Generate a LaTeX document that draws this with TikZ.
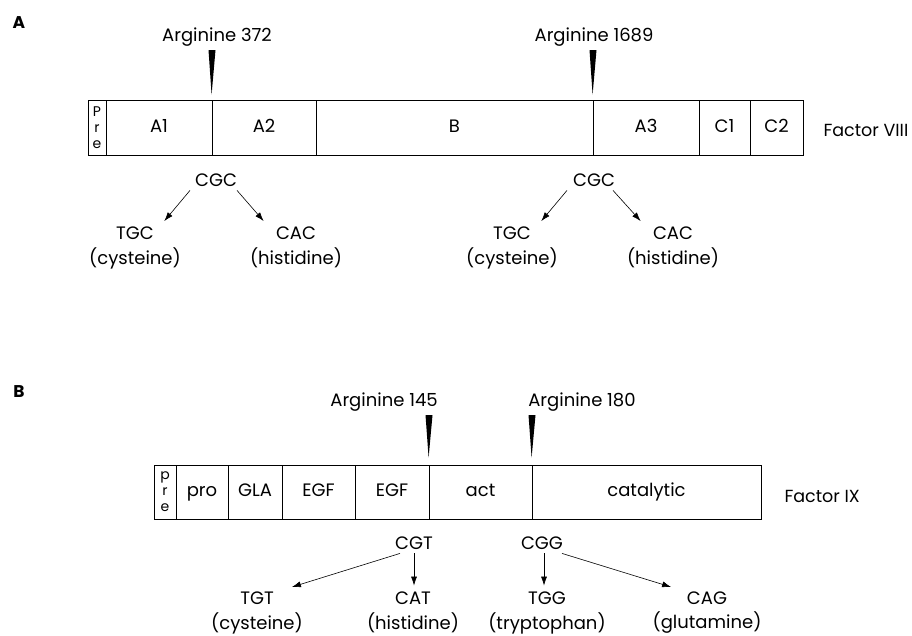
\documentclass[tikz,border=0pt]{standalone}
\usepackage{fontspec}
\setmainfont{Poppins}
\usepackage{tikz}
\usetikzlibrary{arrows.meta}
\usetikzlibrary{positioning}

\begin{document}
\begin{tikzpicture}[x=1pt,y=-1pt,font=\fontsize{18}{21}\selectfont]
	\tikzset{seg/.style = {draw, line width=0.8pt, minimum height=55pt, inner sep=0pt,
			text height=13pt, text depth=4pt}}
	\tikzset{prebox/.style = {draw, line width=0.8pt, minimum height=55pt, inner sep=0pt,
			align=center, font=\fontsize{14}{16}\selectfont}}
	\tikzset{codon/.style = {inner sep=1pt, outer sep=3pt}}
	\tikzset{amino/.style = {inner sep=1pt}}
	\tikzset{mut/.style = {-{Latex[length=9pt,width=6pt]}, line width=0.6pt, shorten >=2pt}}
	\tikzset{cut/.style = {fill=black}}
	\tikzset{panel/.style = {font=\fontsize{17}{17}\selectfont\bfseries}}
	
	\useasboundingbox (0,0) rectangle (912,635);
	
	% panel A: factor VIII
	\node[panel] (panA) at (19,23) {A};
	\node[prebox, minimum width=18pt] (preA) at (97,127.5) {P\\r\\e};
	\node[seg, minimum width=106pt] (A1) at (159,127.5) {A1};
	\node[seg, minimum width=104pt] (A2) at (264,127.5) {A2};
	\node[seg, minimum width=277pt] (B) at (454.5,127.5) {B};
	\node[seg, minimum width=106pt] (A3) at (646,127.5) {A3};
	\node[seg, minimum width=51pt] (C1) at (724.5,127.5) {C1};
	\node[seg, minimum width=53pt] (C2) at (776.5,127.5) {C2};
	\node[anchor=west, font=\fontsize{17.5}{20}\selectfont] (f8) at (820,130) {Factor VIII};
	
	\node (arg372) at (217,37) {Arginine 372};
	\node (arg1689) at (594,37) {Arginine 1689};
	\coordinate (tip372) at (212,50);
	\coordinate (tip1689) at (593,50);
	\fill[cut] (tip372) ++(-3.5,0) -- ++(7,0) -- ([yshift=5pt]A2.north west) -- cycle;
	\fill[cut] (tip1689) ++(-3.5,0) -- ++(7,0) -- ([yshift=5pt]A3.north west) -- cycle;
	
	\node[codon] (cgcA) at (216,180) {CGC};
	\node[codon] (tgcA) at (135,233) {TGC};
	\node[codon] (cacA) at (296,233) {CAC};
	\node[amino] (cysA) at (135,258) {(cysteine)};
	\node[amino] (hisA) at (296,258) {(histidine)};
	
	\node[codon] (cgcAA) at (594,180) {CGC};
	\node[codon] (tgcAA) at (512,233) {TGC};
	\node[codon] (cacAA) at (673,233) {CAC};
	\node[amino] (cysAA) at (512,258) {(cysteine)};
	\node[amino] (hisAA) at (673,258) {(histidine)};
	
	\draw[mut] ([xshift=-26pt]cgcA.south) to ([xshift=28pt]tgcA.north);
	\draw[mut] ([xshift=21pt]cgcA.south) to ([xshift=-31pt]cacA.north);
	\draw[mut] ([xshift=-27pt]cgcAA.south) to ([xshift=28pt]tgcAA.north);
	\draw[mut] ([xshift=19pt]cgcAA.south) to ([xshift=-31pt]cacAA.north);
	
	% panel B: factor IX
	\node[panel] (panB) at (19,392) {B};
	\node[prebox, minimum width=22pt, minimum height=54pt] (preB) at (165,492) {p\\r\\e};
	\node[seg, minimum width=52pt, minimum height=54pt] (pro) at (202,492) {pro};
	\node[seg, minimum width=54pt, minimum height=54pt] (gla) at (255,492) {GLA};
	\node[seg, minimum width=73pt, minimum height=54pt] (egfa) at (318.5,492) {EGF};
	\node[seg, minimum width=74pt, minimum height=54pt] (egfb) at (392,492) {EGF};
	\node[seg, minimum width=103pt, minimum height=54pt] (act) at (480.5,492) {act};
	\node[seg, minimum width=229pt, minimum height=54pt] (cat) at (646.5,492) {catalytic};
	\node[anchor=west, font=\fontsize{17.5}{20}\selectfont] (f9) at (781,496) {Factor IX};
	
	\node (arg145) at (384,402) {Arginine 145};
	\node (arg180) at (582,402) {Arginine 180};
	\coordinate (tip145) at (429,415);
	\coordinate (tip180) at (532,415);
	\fill[cut] (tip145) ++(-3.5,0) -- ++(7,0) -- ([yshift=7pt]act.north west) -- cycle;
	\fill[cut] (tip180) ++(-3.5,0) -- ++(7,0) -- ([yshift=7pt]cat.north west) -- cycle;
	
	\node[codon] (cgt) at (414,543) {CGT};
	\node[codon] (cgg) at (542,543) {CGG};
	\node[codon] (tgt) at (257,598) {TGT};
	\node[codon] (cattt) at (413,598) {CAT};
	\node[codon] (tgg) at (547,598) {TGG};
	\node[codon] (cag) at (707,598) {CAG};
	\node[amino] (cysB) at (257,623) {(cysteine)};
	\node[amino] (hisB) at (413,623) {(histidine)};
	\node[amino] (trpB) at (547,623) {(tryptophan)};
	\node[amino] (glnB) at (707,623) {(glutamine)};
	
	\draw[mut] ([xshift=-14pt]cgt.south) to ([xshift=33pt]tgt.north);
	\draw[mut] (cgt.south) to (cgt.south |- cattt.north);
	\draw[mut] ([xshift=2pt]cgg.south) to ([xshift=2pt]cgg.south |- tgg.north);
	\draw[mut] ([xshift=20pt]cgg.south) to ([xshift=-34pt]cag.north);
	
\end{tikzpicture}
\end{document}
